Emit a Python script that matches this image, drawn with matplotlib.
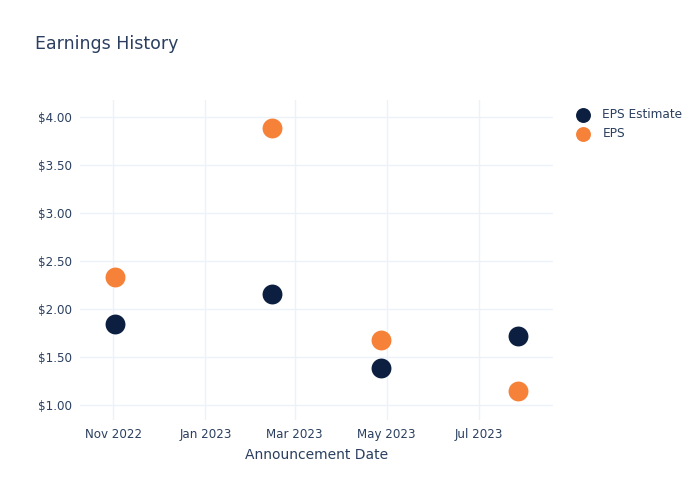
import numpy as np
import matplotlib.pyplot as plt
import matplotlib.dates as mdates

# data
dates = np.array(['2022-11-02', '2023-02-14', '2023-04-27', '2023-07-27'], dtype='datetime64[D]')
eps_estimate = [1.85, 2.16, 1.39, 1.72]
eps_actual = [2.34, 3.89, 1.68, 1.15]
series_names = ['EPS Estimate', 'EPS']
series_colors = ['#0c1f41', '#f6823a']

text_color = '#2a3f5f'
grid_color = '#edf1f9'

fig = plt.figure(figsize=(7, 5), dpi=100)
ax = fig.add_axes([80 / 700, 1 - 420 / 500, 473 / 700, 320 / 500])

for vals, name, color in zip([eps_estimate, eps_actual], series_names, series_colors):
    ax.scatter(dates, vals, s=205, color=color, label=name, zorder=3, linewidths=0)

ax.set_xlim(np.datetime64('2022-10-10'), np.datetime64('2023-08-19'))
ax.set_ylim(0.847, 4.18)

ax.xaxis.set_major_locator(mdates.MonthLocator(bymonth=[1, 3, 5, 7, 9, 11]))
ax.xaxis.set_major_formatter(mdates.DateFormatter('%b %Y'))
ax.set_yticks([1, 1.5, 2, 2.5, 3, 3.5, 4])
ax.yaxis.set_major_formatter(plt.FuncFormatter(lambda v, p: f'${v:.2f}'))

ax.grid(True, color=grid_color, linewidth=1, zorder=0)
for s in ax.spines.values():
    s.set_visible(False)
ax.tick_params(length=0, labelsize=8.6, colors=text_color, pad=6)

ax.set_xlabel('Announcement Date', fontsize=10, color=text_color, labelpad=5)

fig.text(35 / 700, 1 - 44 / 500, 'Earnings History', fontsize=12.5, color=text_color, va='center')

ax.legend(loc='upper left', bbox_to_anchor=(1.02, 1.0), frameon=False, fontsize=8.7,
          labelcolor=text_color, handletextpad=0.6, borderaxespad=0.3, labelspacing=0.45,
          markerscale=0.75)

fig.savefig('out.png', dpi=100)
